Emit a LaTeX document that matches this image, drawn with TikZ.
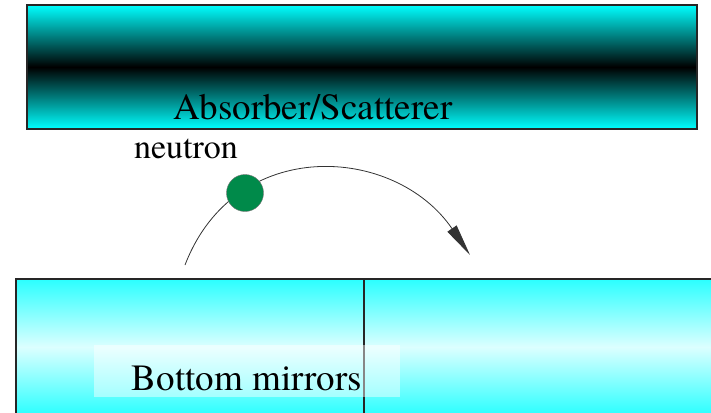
\documentclass[tikz,border=0pt]{standalone}
\usepackage{fontspec}
\setmainfont{texgyretermes-regular.otf}
\usetikzlibrary{arrows.meta}

\definecolor{cabs}{HTML}{00FFFF}
\definecolor{cmir}{HTML}{2BFFFF}
\definecolor{cmirmid}{HTML}{DCFFFF}
\definecolor{cgreen}{HTML}{008A4A}

\begin{document}
\begin{tikzpicture}[
    x=1pt, y=1pt,
    slab/.style={draw=black!85, line width=1.5pt, inner sep=0pt, outer sep=0pt},
    absorber/.style={slab, top color=cabs, bottom color=cabs, middle color=black},
    mirror/.style={slab, top color=cmir, bottom color=cmir, middle color=cmirmid},
    lbl/.style={font=\fontsize{37}{40}\selectfont, inner sep=0pt, anchor=base},
    traj/.style={draw=black!80, line width=0.8pt, -{Triangle[length=32pt, width=11pt]}},
]

% Page frame: 711 x 412
\useasboundingbox (0,0) rectangle (711,-412);
\clip (0,0) rectangle (711,-412);

% --- Absorber / scatterer on top ---
\node[absorber, minimum width=670, minimum height=124] (absbox) at (362,-67) {};
\node[lbl] (abstxt) at (313,-119) {Absorber/Scatterer};

% --- Bottom mirrors (two plates) ---
\node[mirror, minimum width=348, minimum height=136] (mirL) at (190,-347) {};
\node[mirror, minimum width=356, minimum height=136] (mirR) at (542,-347) {};

% Label backing
\fill[white, fill opacity=0.45] (94,-345) rectangle (400,-397);
\node[lbl] (mirtxt) at (247,-390) {Bottom mirrors};

% --- Neutron trajectory ---
\coordinate (trjA) at (185,-265);
\coordinate (trjB) at (470,-255);
\draw[traj] (trjA) .. controls (235,-135) and (395,-145) .. (trjB);

\node[circle, draw=black!55, fill=cgreen, minimum size=37, inner sep=0pt] (neutron) at (245,-193) {};
\node[font=\fontsize{34}{38}\selectfont, inner sep=0pt, anchor=base] (ntxt) at (186,-158) {neutron};

\end{tikzpicture}
\end{document}
